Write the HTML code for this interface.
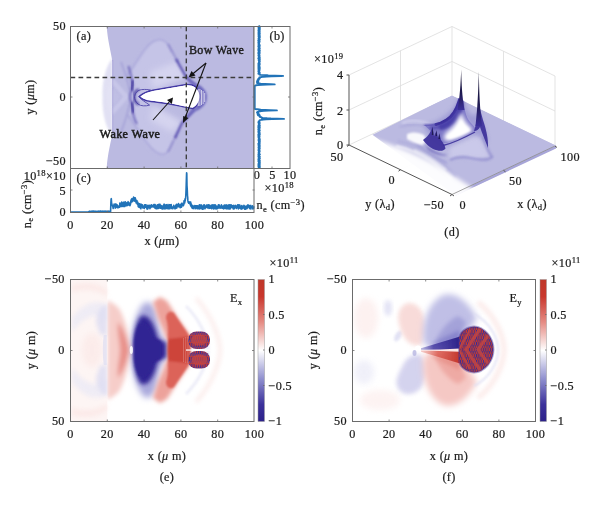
<!DOCTYPE html>
<html><head><meta charset="utf-8">
<style>
html,body{margin:0;padding:0;background:#fff;}
svg{display:block;opacity:0.99;}
text{font-family:"Liberation Serif",serif;font-size:12.2px;fill:#1a1a1a;stroke:#1a1a1a;stroke-width:0.22px;letter-spacing:0.35px;}
.ax{fill:none;stroke:#6a6a6a;stroke-width:1;}
.tk{stroke:#6a6a6a;stroke-width:0.8;fill:none;}
.it{font-style:italic;}
.sm{font-size:8.6px;}
</style></head><body>
<svg width="600" height="505" viewBox="0 0 600 505">
<defs>
<filter id="b1" x="-20%" y="-20%" width="140%" height="140%"><feGaussianBlur stdDeviation="1"/></filter>
<filter id="b2" x="-20%" y="-20%" width="140%" height="140%"><feGaussianBlur stdDeviation="2"/></filter>
<filter id="b3" x="-30%" y="-30%" width="160%" height="160%"><feGaussianBlur stdDeviation="3"/></filter>
<filter id="b5" x="-30%" y="-30%" width="160%" height="160%"><feGaussianBlur stdDeviation="5"/></filter>
<filter id="b05" x="-20%" y="-20%" width="140%" height="140%"><feGaussianBlur stdDeviation="0.5"/></filter>
<clipPath id="clipA"><rect x="70.5" y="26.5" width="183.5" height="142"/></clipPath>
<clipPath id="clipE"><rect x="70.5" y="279.5" width="183.5" height="142"/></clipPath>
<clipPath id="clipF"><rect x="352.5" y="279.5" width="183" height="142"/></clipPath>
<linearGradient id="cbar" x1="0" y1="0" x2="0" y2="1">
<stop offset="0" stop-color="#bf3527"/>
<stop offset="0.12" stop-color="#c9352b"/>
<stop offset="0.3" stop-color="#e58a82"/>
<stop offset="0.5" stop-color="#ffffff"/>
<stop offset="0.7" stop-color="#8f8fcf"/>
<stop offset="0.88" stop-color="#3a2f9a"/>
<stop offset="1" stop-color="#2a1f88"/>
</linearGradient>
</defs>
<rect width="600" height="505" fill="#fff"/>

<g id="panelA">
<g clip-path="url(#clipA)">
<rect x="70" y="26" width="185" height="142" fill="#fff"/>
<!-- haze left of edge -->
<path d="M112.500,58 C106,66 102,80 102.500,97 C102,114 106,128 112.500,136 Z" fill="#c9c8ea" opacity="0.55" filter="url(#b1)"/>
<path d="M112.500,78 C108,84 106,90 107,97 C106,104 108,110 112.500,116 Z" fill="#e4e3f5" opacity="0.7" filter="url(#b1)"/>
<!-- plasma body -->
<path d="M106.700,26 C107.500,40 111,52 112.500,62 L112.500,132 C111,142 107.500,154 106.700,168 L255,168 L255,26 Z" fill="#bbbae1"/>
<path d="M112.700,60 L112.700,134" stroke="#8f8bcf" stroke-width="0.800" opacity="0.7" fill="none"/>
<!-- light chevron > -->
<path d="M113,78 L129.500,96.800 L113,115 L113,108 L123,96.800 L113,85 Z" fill="#cdccec" opacity="0.7" filter="url(#b1)"/>
<path d="M113,88 L121,96.800 L113,106 Z" fill="#c2c1e6" opacity="0.6" filter="url(#b1)"/>
<!-- lighter interior of wake domes -->
<path d="M129,75 C134,66 140,56 146,48 C151,41 157,38 163,40 C168,42 170,47 172,52 L186.500,77.500 L152,90 L137,92 Z" fill="#cfceed" opacity="0.5" filter="url(#b2)"/>
<path d="M150,72 L176,62 L186.500,77.500 L153,89 Z" fill="#e0dff4" opacity="0.6" filter="url(#b3)"/>
<path d="M130,114 C135,124 141,134 147,143 C153,151 160,156 165,154 C170,152 171,146 173,141 L182,123 L150,104 L137,102 Z" fill="#cfceed" opacity="0.5" filter="url(#b2)"/>
<path d="M150,120 L172,132 L182,122 L153,105 Z" fill="#e0dff4" opacity="0.6" filter="url(#b3)"/>
<!-- dome rims -->
<path d="M127,76 C133,67 139,57 145,49 C150,42 157,38 163,40 C168,42 170,47 172,52" fill="none" stroke="#8580c9" stroke-width="1.800" opacity="0.32" filter="url(#b1)"/>
<path d="M128,115 C134,124 140,134 147,143 C153,151 160,156 165,154 C170,152 171,146 173,141" fill="none" stroke="#8580c9" stroke-width="1.800" opacity="0.32" filter="url(#b1)"/>
<!-- bow lines -->
<path d="M168,44 L178,62" fill="none" stroke="#5a50b3" stroke-width="1.600" opacity="0.45" filter="url(#b1)"/>
<path d="M176,59 L186.500,77.500 L197,86.500" fill="none" stroke="#4337a6" stroke-width="2.200" opacity="0.85" filter="url(#b1)"/>
<path d="M168,152 L176,136" fill="none" stroke="#5a50b3" stroke-width="1.600" opacity="0.45" filter="url(#b1)"/>
<path d="M175,138 L182,123 L195,108.500" fill="none" stroke="#4337a6" stroke-width="2.200" opacity="0.85" filter="url(#b1)"/>
<!-- halo to the right of cavity -->
<path d="M186.500,77.500 L197,84 C205,88 208,94 207,98 C207,103 203,108 196,111 L182,123 L190,112 L190,84 Z" fill="#746ec3" opacity="0.7" filter="url(#b1)"/>
<path d="M196,84 C203,87 206,92 206,97 C206,103 202,108 195,111 L199,104 L200,92 Z" fill="#5c54b6" opacity="0.7" filter="url(#b1)"/>
<!-- left ( structure -->
<path d="M128.500,66 C131,74 132,80 132.500,85 C131.500,90 130.200,93 129.800,96.800 C130.200,101 131.500,104 132.800,108 C132.500,114 134,119 137,124" fill="none" stroke="#4a3fab" stroke-width="2.200" opacity="0.6" filter="url(#b1)"/>
<path d="M133,80 C132,86 131.800,89 131.500,91 M131.500,102 C132,105 132.500,108 133.500,113" fill="none" stroke="#3a2f9a" stroke-width="3" opacity="0.8" filter="url(#b1)"/>
<path d="M121,62 C125,72 128,82 129.500,90" fill="none" stroke="#6a63bd" stroke-width="1.300" opacity="0.35" filter="url(#b1)"/>
<path d="M121,132 C125,122 128,112 129.500,104" fill="none" stroke="#6a63bd" stroke-width="1.300" opacity="0.35" filter="url(#b1)"/>
<!-- small loop arms -->
<path d="M134,96 C134.500,92 137,89.500 141,89 C145,88.600 148,89 150,89.500 C146,91.500 141,93 138,96 C141,99.500 145,101.500 149,104.500 C145,105.800 140,105.500 137.500,103.500 C135,101.500 134,99 134,96 Z" fill="#c3c2e6" stroke="#4036a3" stroke-width="1" opacity="0.8" filter="url(#b05)" transform="translate(0.6,0.6)"/>
<path d="M139,89.500 C135.500,90.500 134,93 134.200,96.500 C134,100 135.500,103 139,104.500" fill="none" stroke="#3a2f9a" stroke-width="2.600" opacity="0.75" filter="url(#b1)"/>
<!-- cavity dark outline -->
<path d="M139.400,96.600 C143,93 148,91.300 153,90.200 L186.500,84.500 C190,84.300 193,85 195.500,86.700 C199,90 200.500,94 200,98 C199.500,102 197,106 193,108.500 C186,107.500 178,105.500 170,104 C162,102.600 154,102 147,100.800 C143.500,100 141,98.500 139.400,96.600 Z" fill="#ffffff" stroke="#4036a3" stroke-width="1.500" filter="url(#b05)"/>
<path d="M140.400,96.600 C143.500,93.700 148,92.100 153,91 L186.500,85.300 C190,85.100 193,86 195,87.500 C198,90.500 199.500,94 199,98 C198.500,102 196.500,105.500 193,107.600 C186,106.700 178,104.700 170,103.200 C162,101.800 154,101.200 147.500,100 C144,99.200 142,98 140.400,96.600 Z" fill="#ffffff"/>
<!-- stripes right of cavity -->
<g stroke="#fff" stroke-width="0.75" opacity="0.9" filter="url(#b05)">
<line x1="198.300" y1="89" x2="198.300" y2="106"/><line x1="199.900" y1="89" x2="199.900" y2="106"/><line x1="201.500" y1="90" x2="201.500" y2="105"/><line x1="203.100" y1="91" x2="203.100" y2="104"/><line x1="204.700" y1="93" x2="204.700" y2="102"/>
</g>
</g>
<!-- dashed lines -->
<line x1="70.5" y1="77.5" x2="254.5" y2="77.5" stroke="#3a3a3a" stroke-width="1.35" stroke-dasharray="4.7,3.3"/>
<line x1="186.3" y1="26.5" x2="186.3" y2="168.5" stroke="#3a3a3a" stroke-width="1.35" stroke-dasharray="4.7,3.3"/>
<!-- frame -->
<rect class="ax" x="70.5" y="26.5" width="183.5" height="142"/>
<g class="tk">
<path d="M107.3,26.5v2M144.1,26.5v2M180.9,26.5v2M217.7,26.5v2M107.3,168.5v-2M144.1,168.5v-2M180.9,168.5v-2M217.7,168.5v-2M70.5,97h2M254.5,97h-2"/>
</g>
<!-- arrows -->
<g stroke="#111" stroke-width="1.1" fill="#111">
<line x1="206" y1="63" x2="192" y2="74.5"/><path d="M188.500,77.500 L195.500,75.500 L191.500,71 Z" stroke="none"/>
<line x1="206" y1="63" x2="185" y2="118"/><path d="M183,123 L188.500,118 L183.200,116 Z" stroke="none"/>
<line x1="153" y1="120" x2="170" y2="101"/><path d="M173,97.500 L171.800,104 L167,100 Z" stroke="none"/>
</g>
<text x="189" y="53.5" style="font-size:12px;stroke-width:0.4px">Bow Wave</text>
<text x="99.500" y="138" style="font-size:12.2px;stroke-width:0.5px">Wake Wave</text>
<text x="76.5" y="40">(a)</text>
<text x="66" y="30" text-anchor="end">50</text>
<text x="66" y="101" text-anchor="end">0</text>
<text x="66" y="165" text-anchor="end">−50</text>
<text transform="translate(33.5,97) rotate(-90)" text-anchor="middle">y (<tspan class="it">μ</tspan>m)</text>
</g>

<g id="panelB">
<rect x="254" y="26.5" width="36" height="142" fill="#fff"/>
<polyline points="258.5,26.0 259.4,26.2 259.5,26.4 259.1,26.6 258.4,26.8 259.1,27.0 258.9,27.2 259.8,27.4 258.5,27.6 259.6,27.8 259.8,28.0 259.4,28.2 259.6,28.4 258.6,28.6 259.8,28.8 259.1,29.0 259.8,29.2 259.7,29.4 258.6,29.7 259.5,29.9 259.7,30.1 258.4,30.3 258.9,30.5 259.5,30.7 258.6,30.9 259.7,31.1 258.7,31.3 259.6,31.5 258.5,31.7 259.1,31.9 259.7,32.1 258.6,32.3 258.7,32.5 259.1,32.7 258.8,32.9 258.4,33.1 258.6,33.3 258.6,33.5 259.8,33.7 259.4,33.9 259.7,34.1 258.6,34.3 259.5,34.5 258.5,34.7 259.1,34.9 259.3,35.1 258.9,35.3 259.7,35.5 259.2,35.7 259.2,35.9 259.7,36.1 258.5,36.3 259.8,36.5 259.3,36.8 258.9,37.0 259.5,37.2 258.7,37.4 259.8,37.6 259.2,37.8 258.9,38.0 259.5,38.2 259.0,38.4 258.6,38.6 259.5,38.8 258.4,39.0 259.6,39.2 258.7,39.4 259.3,39.6 259.8,39.8 259.2,40.0 259.3,40.2 258.8,40.4 258.3,40.6 258.4,40.8 258.6,41.0 259.3,41.2 259.0,41.4 259.1,41.6 259.7,41.8 258.5,42.0 258.7,42.2 259.3,42.4 258.4,42.6 258.3,42.8 258.9,43.0 258.5,43.2 258.9,43.4 258.7,43.6 259.2,43.9 259.2,44.1 258.6,44.3 259.3,44.5 259.1,44.7 258.5,44.9 259.8,45.1 258.7,45.3 258.6,45.5 258.5,45.7 259.3,45.9 259.7,46.1 259.5,46.3 258.9,46.5 258.7,46.7 258.3,46.9 259.3,47.1 259.2,47.3 258.9,47.5 259.3,47.7 259.0,47.9 259.8,48.1 259.4,48.3 258.7,48.5 259.7,48.7 258.4,48.9 259.1,49.1 258.9,49.3 258.7,49.5 258.4,49.7 259.5,49.9 258.3,50.1 259.2,50.3 259.8,50.5 258.5,50.7 258.6,51.0 259.3,51.2 259.1,51.4 259.3,51.6 259.6,51.8 258.6,52.0 258.8,52.2 258.8,52.4 258.4,52.6 259.7,52.8 259.5,53.0 259.4,53.2 258.3,53.4 259.6,53.6 259.5,53.8 259.0,54.0 259.5,54.2 259.0,54.4 258.7,54.6 258.5,54.8 258.7,55.0 258.4,55.2 258.8,55.4 259.5,55.6 259.4,55.8 259.6,56.0 259.4,56.2 258.7,56.4 259.2,56.6 259.0,56.8 259.5,57.0 259.1,57.2 258.7,57.4 259.3,57.6 259.8,57.8 258.7,58.1 259.7,58.3 258.3,58.5 258.7,58.7 258.7,58.9 259.5,59.1 259.8,59.3 259.5,59.5 258.8,59.7 259.7,59.9 258.8,60.1 258.7,60.3 259.7,60.5 259.3,60.7 259.4,60.9 259.3,61.1 259.8,61.3 259.0,61.5 259.6,61.7 259.4,61.9 259.6,62.1 259.0,62.3 259.4,62.5 259.2,62.7 258.8,62.9 258.6,63.1 259.3,63.3 258.4,63.5 259.7,63.7 258.5,63.9 258.4,64.1 258.5,64.3 259.7,64.5 258.9,64.7 258.5,64.9 258.4,65.2 258.4,65.4 259.4,65.6 259.3,65.8 259.4,66.0 259.5,66.2 258.4,66.4 259.2,66.6 258.9,66.8 259.6,67.0 259.6,67.2 259.7,67.4 258.4,67.6 259.7,67.8 259.7,68.0 259.8,68.2 258.5,68.4 258.6,68.6 258.5,68.8 258.4,69.0 259.6,69.2 259.6,69.4 259.3,69.6 259.6,69.8 259.3,70.0 258.8,70.2 258.5,70.4 258.5,70.6 259.5,70.8 258.6,71.0 258.8,71.2 259.0,71.4 258.4,71.6 258.7,71.8 258.8,72.0 259.4,72.3 258.9,72.5 258.8,72.7 259.8,72.9 259.1,73.1 259.6,73.3 259.3,73.5 258.4,73.7 259.0,73.9 259.1,74.1 259.7,74.3 259.3,74.5 260.1,74.7 260.4,74.9 265.6,75.1 266.9,75.3 268.3,75.5 274.9,75.7 283.1,75.9 281.2,76.1 271.7,76.3 266.8,76.5 263.7,76.7 261.9,76.9 261.6,77.1 259.9,77.3 259.4,77.5 260.1,77.7 259.7,77.9 259.1,78.1 259.8,78.3 259.6,78.5 258.4,78.7 259.4,78.9 258.4,79.1 258.1,79.4 258.5,79.6 258.7,79.8 258.0,80.0 257.6,80.2 258.3,80.4 257.4,80.6 258.4,80.8 257.2,81.0 258.4,81.2 257.2,81.4 258.0,81.6 257.0,81.8 257.2,82.0 257.6,82.2 257.3,82.4 258.4,82.6 257.0,82.8 257.1,83.0 258.9,83.2 259.1,83.4 259.2,83.6 260.9,83.8 264.7,84.0 270.7,84.2 274.7,84.4 267.0,84.6 262.0,84.8 257.8,85.0 256.4,85.2 255.7,85.4 255.2,85.6 255.0,85.8 254.8,86.0 254.8,86.2 254.7,86.5 254.7,86.7 254.7,86.9 254.7,87.1 254.7,87.3 254.7,87.5 254.7,87.7 254.7,87.9 254.7,88.1 254.7,88.3 254.7,88.5 254.7,88.7 254.7,88.9 254.7,89.1 254.7,89.3 254.7,89.5 254.7,89.7 254.7,89.9 254.7,90.1 254.7,90.3 254.7,90.5 254.7,90.7 254.7,90.9 254.7,91.1 254.7,91.3 254.7,91.5 254.7,91.7 254.7,91.9 254.7,92.1 254.7,92.3 254.7,92.5 254.7,92.7 254.7,92.9 254.7,93.1 254.7,93.3 254.7,93.6 254.7,93.8 254.7,94.0 254.7,94.2 254.7,94.4 254.7,94.6 254.7,94.8 254.7,95.0 254.7,95.2 254.7,95.4 254.7,95.6 254.7,95.8 254.7,96.0 254.7,96.2 254.7,96.4 254.7,96.6 254.7,96.8 254.7,97.0 254.7,97.2 254.7,97.4 254.7,97.6 254.7,97.8 254.7,98.0 254.7,98.2 254.7,98.4 254.7,98.6 254.7,98.8 254.7,99.0 254.7,99.2 254.7,99.4 254.7,99.6 254.7,99.8 254.7,100.0 254.7,100.2 254.7,100.4 254.7,100.7 254.7,100.9 254.7,101.1 254.7,101.3 254.7,101.5 254.7,101.7 254.7,101.9 254.7,102.1 254.7,102.3 254.7,102.5 254.7,102.7 254.7,102.9 254.7,103.1 254.7,103.3 254.7,103.5 254.7,103.7 254.7,103.9 254.7,104.1 254.7,104.3 254.7,104.5 254.7,104.7 254.7,104.9 254.7,105.1 254.7,105.3 254.7,105.5 254.7,105.7 254.7,105.9 254.7,106.1 254.7,106.3 254.7,106.5 254.7,106.7 254.7,106.9 254.7,107.1 254.7,107.3 254.7,107.5 254.7,107.8 254.7,108.0 254.7,108.2 254.7,108.4 254.8,108.6 254.9,108.8 255.1,109.0 257.0,109.2 259.3,109.4 259.2,109.6 260.9,109.8 265.3,110.0 270.2,110.2 276.9,110.4 268.7,110.6 263.9,110.8 261.5,111.0 259.9,111.2 258.9,111.4 258.5,111.6 258.5,111.8 257.4,112.0 257.1,112.2 257.0,112.4 257.2,112.6 257.8,112.8 258.5,113.0 258.5,113.2 258.1,113.4 258.6,113.6 258.0,113.8 257.5,114.0 258.5,114.2 258.6,114.4 259.2,114.6 259.4,114.9 258.7,115.1 258.0,115.3 259.2,115.5 259.7,115.7 259.2,115.9 259.9,116.1 259.5,116.3 259.8,116.5 259.6,116.7 260.0,116.9 260.0,117.1 261.6,117.3 261.7,117.5 261.5,117.7 262.9,117.9 264.7,118.1 267.1,118.3 270.9,118.5 277.5,118.7 284.0,118.9 272.1,119.1 266.2,119.3 263.3,119.5 261.8,119.7 261.0,119.9 260.0,120.1 259.7,120.3 259.5,120.5 259.5,120.7 259.3,120.9 259.4,121.1 258.7,121.3 259.4,121.5 259.0,121.7 259.5,122.0 258.5,122.2 258.6,122.4 258.4,122.6 259.5,122.8 259.7,123.0 259.3,123.2 258.9,123.4 259.6,123.6 259.5,123.8 259.2,124.0 258.7,124.2 258.8,124.4 259.0,124.6 258.8,124.8 259.0,125.0 259.3,125.2 259.8,125.4 258.4,125.6 259.2,125.8 258.4,126.0 258.5,126.2 259.6,126.4 259.2,126.6 259.7,126.8 259.0,127.0 258.3,127.2 258.9,127.4 259.2,127.6 259.8,127.8 259.8,128.0 259.1,128.2 259.0,128.4 258.5,128.6 259.3,128.8 258.6,129.1 258.6,129.3 258.3,129.5 258.3,129.7 259.4,129.9 258.5,130.1 259.8,130.3 258.5,130.5 259.7,130.7 258.5,130.9 258.4,131.1 259.4,131.3 258.7,131.5 259.4,131.7 258.6,131.9 258.4,132.1 259.5,132.3 259.4,132.5 259.6,132.7 259.4,132.9 258.5,133.1 259.3,133.3 259.4,133.5 259.0,133.7 259.8,133.9 258.7,134.1 259.8,134.3 259.4,134.5 258.3,134.7 258.3,134.9 259.3,135.1 259.6,135.3 258.4,135.5 258.8,135.7 259.4,135.9 258.6,136.2 259.6,136.4 259.1,136.6 258.4,136.8 258.9,137.0 259.2,137.2 259.0,137.4 259.4,137.6 258.5,137.8 259.5,138.0 258.9,138.2 259.3,138.4 259.3,138.6 259.0,138.8 258.9,139.0 259.5,139.2 259.8,139.4 259.5,139.6 259.2,139.8 258.8,140.0 258.4,140.2 259.8,140.4 259.4,140.6 259.6,140.8 258.8,141.0 259.3,141.2 259.8,141.4 259.6,141.6 259.2,141.8 258.8,142.0 259.0,142.2 259.7,142.4 258.9,142.6 259.4,142.8 259.2,143.0 259.7,143.3 259.6,143.5 258.8,143.7 258.3,143.9 258.7,144.1 259.0,144.3 259.2,144.5 259.6,144.7 259.7,144.9 258.4,145.1 259.6,145.3 259.6,145.5 259.7,145.7 259.2,145.9 258.7,146.1 259.6,146.3 259.6,146.5 259.4,146.7 259.7,146.9 258.9,147.1 258.5,147.3 259.2,147.5 259.5,147.7 258.6,147.9 259.5,148.1 259.8,148.3 258.7,148.5 259.3,148.7 259.4,148.9 259.0,149.1 258.6,149.3 258.7,149.5 259.5,149.7 259.5,149.9 259.0,150.1 258.5,150.4 259.6,150.6 259.5,150.8 258.7,151.0 259.2,151.2 259.7,151.4 259.7,151.6 259.1,151.8 259.1,152.0 259.2,152.2 258.6,152.4 258.6,152.6 258.6,152.8 259.4,153.0 258.9,153.2 259.2,153.4 258.9,153.6 259.1,153.8 258.6,154.0 258.4,154.2 259.9,154.4 258.9,154.6 258.5,154.8 259.3,155.0 259.5,155.2 258.6,155.4 259.2,155.6 258.9,155.8 259.1,156.0 258.4,156.2 258.4,156.4 259.8,156.6 259.7,156.8 259.1,157.0 259.2,157.2 258.7,157.5 259.5,157.7 259.0,157.9 259.8,158.1 259.5,158.3 259.6,158.5 259.8,158.7 258.7,158.9 258.4,159.1 258.6,159.3 258.6,159.5 258.5,159.7 258.4,159.9 259.2,160.1 259.7,160.3 259.0,160.5 259.8,160.7 259.7,160.9 258.4,161.1 259.2,161.3 258.9,161.5 258.5,161.7 259.8,161.9 258.7,162.1 259.2,162.3 259.3,162.5 259.8,162.7 259.3,162.9 258.9,163.1 259.0,163.3 258.6,163.5 259.8,163.7 259.8,163.9 258.7,164.1 258.4,164.3 258.7,164.6 258.9,164.8 259.7,165.0 259.7,165.2 259.6,165.4 258.4,165.6 259.5,165.8 259.4,166.0 259.3,166.2 259.8,166.4 258.4,166.6 258.5,166.8 259.5,167.0 259.8,167.2 259.4,167.4 258.8,167.6 259.2,167.8 259.5,168.0" fill="none" stroke="#1f72b8" stroke-width="1.9" stroke-linejoin="round"/>
<rect class="ax" x="254" y="26.5" width="36" height="142"/>
<path class="tk" d="M272,26.5v2M272,168.5v-2M290,97h-2"/>
<text x="269.5" y="40">(b)</text>
<text x="257" y="179" text-anchor="middle">0</text>
<text x="272.5" y="179" text-anchor="middle">5</text>
<text x="290" y="179" text-anchor="middle">10</text>
<text x="264.5" y="192">×10<tspan class="sm" dy="-4">18</tspan></text>
<text x="256.5" y="209">n<tspan class="sm" dy="2.5">e</tspan><tspan dy="-2.5"> (cm</tspan><tspan class="sm" dy="-4">−3</tspan><tspan dy="4">)</tspan></text>
</g>

<g id="panelC">
<polyline points="70.5,212.1 70.7,212.1 71.0,212.1 71.2,212.1 71.4,212.1 71.6,212.1 71.9,212.1 72.1,212.1 72.3,212.1 72.6,212.1 72.8,212.1 73.0,212.1 73.3,212.1 73.5,212.1 73.7,212.1 73.9,212.1 74.2,212.1 74.4,212.1 74.6,212.1 74.9,212.1 75.1,212.1 75.3,212.1 75.5,212.1 75.8,212.1 76.0,212.1 76.2,212.1 76.5,212.1 76.7,212.1 76.9,212.1 77.2,212.1 77.4,212.1 77.6,212.1 77.8,212.1 78.1,212.1 78.3,212.1 78.5,212.1 78.8,212.1 79.0,212.1 79.2,212.1 79.4,212.1 79.7,212.1 79.9,212.1 80.1,212.1 80.4,212.1 80.6,212.1 80.8,212.1 81.1,212.1 81.3,212.1 81.5,212.1 81.7,212.1 82.0,212.1 82.2,212.1 82.4,212.1 82.7,212.1 82.9,212.1 83.1,212.1 83.3,212.1 83.6,212.1 83.8,212.1 84.0,212.1 84.3,212.1 84.5,212.1 84.7,212.1 85.0,212.1 85.2,212.1 85.4,212.1 85.6,212.1 85.9,212.1 86.1,212.1 86.3,212.1 86.6,212.1 86.8,212.1 87.0,212.1 87.2,212.1 87.5,212.1 87.7,212.1 87.9,212.1 88.2,212.1 88.4,212.1 88.6,212.1 88.8,211.5 89.1,211.7 89.3,211.3 89.5,211.7 89.8,211.4 90.0,211.5 90.2,211.7 90.5,211.4 90.7,211.7 90.9,211.5 91.1,211.7 91.4,211.7 91.6,211.5 91.8,211.2 92.1,211.7 92.3,211.6 92.5,211.3 92.7,211.1 93.0,211.4 93.2,211.5 93.4,211.1 93.7,211.7 93.9,211.2 94.1,211.6 94.4,211.7 94.6,211.7 94.8,211.6 95.0,211.2 95.3,211.6 95.5,211.4 95.7,211.3 96.0,211.5 96.2,211.4 96.4,211.7 96.6,211.7 96.9,211.6 97.1,211.3 97.3,211.5 97.6,211.6 97.8,211.4 98.0,211.5 98.3,211.6 98.5,211.2 98.7,211.3 98.9,211.6 99.2,211.4 99.4,211.4 99.6,211.2 99.9,211.3 100.1,211.6 100.3,211.1 100.5,211.7 100.8,211.5 101.0,211.3 101.2,211.7 101.5,211.4 101.7,211.7 101.9,211.3 102.2,211.3 102.4,211.4 102.6,211.2 102.8,211.6 103.1,211.3 103.3,211.4 103.5,211.4 103.8,211.5 104.0,211.2 104.2,211.1 104.4,211.4 104.7,211.3 104.9,211.7 105.1,211.3 105.4,211.3 105.6,211.1 105.8,211.2 106.1,211.6 106.3,211.5 106.5,211.3 106.7,211.7 107.0,211.5 107.2,211.6 107.4,211.7 107.7,211.7 107.9,211.3 108.1,211.7 108.3,211.6 108.6,211.5 108.8,211.2 109.0,211.7 109.3,211.5 109.5,211.4 109.7,211.2 110.0,211.2 110.2,211.2 110.4,211.6 110.6,211.5 110.9,202.2 111.1,199.0 111.3,198.6 111.6,203.0 111.8,203.8 112.0,204.6 112.2,205.6 112.5,205.2 112.7,205.2 112.9,207.1 113.2,208.5 113.4,206.6 113.6,206.8 113.9,205.9 114.1,204.0 114.3,205.2 114.5,206.0 114.8,205.5 115.0,205.1 115.2,208.1 115.5,204.0 115.7,204.5 115.9,204.0 116.1,204.3 116.4,206.2 116.6,206.2 116.8,207.5 117.1,204.9 117.3,207.6 117.5,207.6 117.8,206.8 118.0,207.0 118.2,206.1 118.4,207.4 118.7,207.6 118.9,206.8 119.1,207.0 119.4,205.7 119.6,207.3 119.8,203.1 120.0,204.3 120.3,206.5 120.5,205.9 120.7,205.4 121.0,205.3 121.2,206.4 121.4,202.9 121.7,202.1 121.9,204.6 122.1,204.5 122.3,206.4 122.6,206.3 122.8,205.0 123.0,205.4 123.3,202.6 123.5,205.8 123.7,206.5 123.9,202.0 124.2,204.0 124.4,205.8 124.6,203.9 124.9,206.4 125.1,203.9 125.3,201.7 125.5,202.3 125.8,203.1 126.0,205.2 126.2,204.7 126.5,205.7 126.7,202.7 126.9,203.9 127.2,202.7 127.4,204.9 127.6,205.4 127.8,202.5 128.1,201.7 128.3,202.3 128.5,202.5 128.8,202.4 129.0,202.7 129.2,205.1 129.4,203.6 129.7,204.2 129.9,205.6 130.1,205.4 130.4,204.0 130.6,203.9 130.8,201.5 131.1,199.9 131.3,202.1 131.5,199.4 131.7,198.8 132.0,198.6 132.2,201.2 132.4,201.6 132.7,201.2 132.9,201.1 133.1,200.8 133.3,198.6 133.6,197.1 133.8,197.4 134.0,199.1 134.3,198.3 134.5,197.7 134.7,201.3 135.0,198.8 135.2,197.8 135.4,198.8 135.6,199.3 135.9,201.0 136.1,202.9 136.3,200.3 136.6,203.0 136.8,201.1 137.0,200.7 137.2,203.9 137.5,204.3 137.7,202.0 137.9,203.4 138.2,206.4 138.4,206.8 138.6,207.0 138.9,203.5 139.1,204.2 139.3,207.5 139.5,204.4 139.8,203.8 140.0,205.4 140.2,207.0 140.5,206.1 140.7,208.2 140.9,208.8 141.1,204.2 141.4,205.8 141.6,206.4 141.8,204.5 142.1,206.9 142.3,204.8 142.5,205.0 142.8,208.0 143.0,207.8 143.2,207.6 143.4,207.9 143.7,206.2 143.9,207.8 144.1,207.0 144.4,208.4 144.6,204.7 144.8,207.4 145.0,206.9 145.3,206.3 145.5,204.7 145.7,207.1 146.0,204.7 146.2,206.7 146.4,206.5 146.7,206.6 146.9,209.0 147.1,207.0 147.3,208.2 147.6,209.1 147.8,205.2 148.0,208.3 148.3,206.8 148.5,205.6 148.7,206.4 148.9,207.5 149.2,206.6 149.4,206.4 149.6,205.3 149.9,208.6 150.1,206.4 150.3,207.9 150.6,207.8 150.8,205.4 151.0,206.7 151.2,206.4 151.5,205.4 151.7,204.7 151.9,207.0 152.2,206.2 152.4,206.7 152.6,206.6 152.8,205.8 153.1,206.9 153.3,206.5 153.5,206.8 153.8,204.6 154.0,205.7 154.2,204.9 154.5,204.6 154.7,207.9 154.9,206.4 155.1,204.6 155.4,205.1 155.6,208.5 155.8,208.5 156.1,207.0 156.3,208.8 156.5,208.0 156.7,208.8 157.0,205.9 157.2,205.3 157.4,204.8 157.7,208.4 157.9,205.7 158.1,205.9 158.4,208.4 158.6,204.8 158.8,204.4 159.0,208.1 159.3,204.5 159.5,207.2 159.7,206.8 160.0,204.3 160.2,205.1 160.4,208.3 160.6,207.0 160.9,206.6 161.1,207.5 161.3,208.2 161.6,207.6 161.8,205.6 162.0,209.0 162.2,206.4 162.5,207.0 162.7,209.0 162.9,207.5 163.2,206.1 163.4,206.6 163.6,208.8 163.9,204.3 164.1,205.3 164.3,204.4 164.5,208.6 164.8,207.8 165.0,208.9 165.2,205.3 165.5,207.8 165.7,208.5 165.9,207.1 166.1,204.7 166.4,205.1 166.6,207.8 166.8,208.4 167.1,204.6 167.3,206.3 167.5,205.7 167.8,208.6 168.0,208.8 168.2,205.7 168.4,207.0 168.7,208.7 168.9,204.5 169.1,206.0 169.4,205.2 169.6,208.7 169.8,204.9 170.0,208.7 170.3,204.9 170.5,206.8 170.7,207.4 171.0,206.4 171.2,204.5 171.4,207.7 171.7,208.4 171.9,206.5 172.1,207.8 172.3,208.5 172.6,208.2 172.8,208.7 173.0,208.0 173.3,207.4 173.5,207.5 173.7,205.2 173.9,207.5 174.2,206.5 174.4,208.0 174.6,207.2 174.9,208.8 175.1,207.6 175.3,208.7 175.6,205.3 175.8,206.1 176.0,207.8 176.2,206.4 176.5,204.2 176.7,208.2 176.9,204.7 177.2,206.5 177.4,206.2 177.6,204.5 177.8,206.6 178.1,206.0 178.3,205.1 178.5,203.6 178.8,206.7 179.0,204.3 179.2,204.8 179.5,205.1 179.7,206.2 179.9,206.4 180.1,207.7 180.4,207.3 180.6,207.5 180.8,204.2 181.1,206.4 181.3,206.8 181.5,207.1 181.7,203.3 182.0,203.1 182.2,203.9 182.4,205.6 182.7,205.7 182.9,205.3 183.1,204.3 183.4,205.6 183.6,204.0 183.8,204.6 184.0,200.9 184.3,200.5 184.5,202.1 184.7,203.0 185.0,198.7 185.2,200.8 185.4,199.1 185.6,198.6 185.9,193.6 186.1,188.5 186.3,181.5 186.6,172.7 186.8,173.6 187.0,185.5 187.3,190.6 187.5,195.8 187.7,197.2 187.9,200.9 188.2,202.4 188.4,202.1 188.6,203.2 188.9,202.0 189.1,202.7 189.3,202.0 189.5,202.8 189.8,202.7 190.0,202.1 190.2,204.7 190.5,205.2 190.7,202.1 190.9,206.3 191.2,203.7 191.4,204.2 191.6,207.2 191.8,205.2 192.1,205.9 192.3,208.5 192.5,206.9 192.8,205.6 193.0,206.6 193.2,206.1 193.4,208.1 193.7,208.5 193.9,208.7 194.1,206.7 194.4,206.4 194.6,207.0 194.8,205.6 195.1,206.9 195.3,206.2 195.5,205.9 195.7,208.8 196.0,205.9 196.2,205.9 196.4,206.9 196.7,207.0 196.9,205.7 197.1,206.3 197.3,208.5 197.6,205.8 197.8,206.6 198.0,208.9 198.3,206.2 198.5,206.1 198.7,206.8 198.9,207.1 199.2,205.2 199.4,204.8 199.6,209.0 199.9,205.5 200.1,207.1 200.3,208.2 200.6,208.2 200.8,208.5 201.0,204.9 201.2,205.5 201.5,205.2 201.7,208.1 201.9,207.0 202.2,209.1 202.4,207.1 202.6,208.5 202.8,207.7 203.1,209.1 203.3,205.4 203.5,205.0 203.8,205.2 204.0,207.5 204.2,204.7 204.5,207.5 204.7,207.9 204.9,208.7 205.1,207.9 205.4,208.0 205.6,206.9 205.8,207.5 206.1,205.2 206.3,206.3 206.5,205.0 206.7,206.0 207.0,205.9 207.2,205.8 207.4,207.9 207.7,205.0 207.9,207.0 208.1,207.8 208.4,204.8 208.6,206.2 208.8,206.7 209.0,208.4 209.3,208.2 209.5,206.9 209.7,205.1 210.0,207.1 210.2,208.3 210.4,207.6 210.6,208.1 210.9,206.6 211.1,205.8 211.3,207.3 211.6,207.5 211.8,208.8 212.0,204.9 212.3,206.9 212.5,205.3 212.7,207.9 212.9,207.4 213.2,204.9 213.4,205.3 213.6,209.0 213.9,205.2 214.1,206.5 214.3,207.4 214.5,205.5 214.8,204.8 215.0,208.6 215.2,206.8 215.5,205.0 215.7,206.3 215.9,207.1 216.2,208.9 216.4,208.1 216.6,206.3 216.8,208.6 217.1,206.3 217.3,208.6 217.5,206.8 217.8,207.4 218.0,206.5 218.2,207.8 218.4,204.9 218.7,205.2 218.9,208.1 219.1,204.9 219.4,207.8 219.6,206.9 219.8,207.3 220.1,206.2 220.3,208.1 220.5,207.6 220.7,206.1 221.0,205.6 221.2,206.9 221.4,204.9 221.7,205.5 221.9,208.1 222.1,207.8 222.3,206.9 222.6,208.1 222.8,206.2 223.0,208.5 223.3,208.2 223.5,208.5 223.7,208.9 224.0,205.2 224.2,205.9 224.4,205.0 224.6,208.3 224.9,205.8 225.1,206.2 225.3,207.5 225.6,208.4 225.8,207.9 226.0,204.9 226.2,204.9 226.5,207.6 226.7,205.5 226.9,208.9 227.2,207.5 227.4,208.3 227.6,205.2 227.9,207.3 228.1,205.7 228.3,209.0 228.5,205.1 228.8,205.8 229.0,207.6 229.2,204.9 229.5,208.0 229.7,207.7 229.9,209.1 230.1,205.1 230.4,205.0 230.6,208.1 230.8,204.9 231.1,207.4 231.3,207.2 231.5,205.0 231.8,205.6 232.0,205.5 232.2,206.4 232.4,207.7 232.7,205.7 232.9,208.3 233.1,208.0 233.4,209.0 233.6,207.7 233.8,205.2 234.0,208.0 234.3,208.7 234.5,206.0 234.7,208.1 235.0,206.4 235.2,205.8 235.4,206.2 235.7,205.4 235.9,206.6 236.1,205.9 236.3,208.0 236.6,208.4 236.8,206.6 237.0,207.4 237.3,206.9 237.5,205.6 237.7,204.8 237.9,207.0 238.2,205.4 238.4,208.9 238.6,208.6 238.9,204.8 239.1,205.0 239.3,205.3 239.5,208.0 239.8,205.0 240.0,206.5 240.2,208.2 240.5,208.5 240.7,208.0 240.9,206.3 241.2,209.1 241.4,206.1 241.6,207.7 241.8,205.6 242.1,208.8 242.3,207.4 242.5,206.3 242.8,208.4 243.0,207.3 243.2,207.8 243.4,207.7 243.7,207.5 243.9,205.3 244.1,207.5 244.4,205.9 244.6,209.1 244.8,207.3 245.1,207.3 245.3,207.1 245.5,209.1 245.7,206.3 246.0,208.7 246.2,207.5 246.4,208.5 246.7,206.8 246.9,208.6 247.1,205.6 247.3,208.3 247.6,205.0 247.8,207.0 248.0,205.0 248.3,205.1 248.5,205.5 248.7,205.7 249.0,207.3 249.2,205.5 249.4,208.2 249.6,206.8 249.9,208.6 250.1,205.9 250.3,208.9 250.6,205.8 250.8,205.4 251.0,206.5 251.2,206.4 251.5,207.3 251.7,207.2 251.9,207.2 252.2,209.0 252.4,207.0 252.6,205.8 252.9,207.1 253.1,207.0 253.3,208.6 253.5,208.7 253.8,206.9 254.0,206.3" fill="none" stroke="#1f72b8" stroke-width="1.6" stroke-linejoin="round"/>
<rect class="ax" x="70.5" y="168.5" width="183.5" height="44"/>
<path class="tk" d="M107.3,212.5v-2M144.1,212.5v-2M180.9,212.5v-2M217.7,212.5v-2M70.5,190h2M254.5,190h-2"/>
<text x="76.5" y="182">(c)</text>
<text x="66" y="180" text-anchor="end">10<tspan class="sm" dy="-4">18</tspan><tspan dy="4">×10</tspan></text>
<text x="66" y="194.5" text-anchor="end">5</text>
<text x="66" y="216" text-anchor="end">0</text>
<text x="70.5" y="229" text-anchor="middle">0</text>
<text x="107.3" y="229" text-anchor="middle">20</text>
<text x="144.1" y="229" text-anchor="middle">40</text>
<text x="180.9" y="229" text-anchor="middle">60</text>
<text x="217.7" y="229" text-anchor="middle">80</text>
<text x="254.5" y="229" text-anchor="middle">100</text>
<text x="162" y="244.5" text-anchor="middle">x (<tspan class="it">μ</tspan>m)</text>
<text transform="translate(30.5,204) rotate(-90)" text-anchor="middle">n<tspan class="sm" dy="2.5">e</tspan><tspan dy="-2.5"> (cm</tspan><tspan class="sm" dy="-4">−3</tspan><tspan dy="4">)</tspan></text>
</g>

<g id="panelD">
<defs>
<clipPath id="clipD"><path d="M350,146 L452,95 L557,145.500 L557,149 L455,196.500 Z"/></clipPath>
<linearGradient id="edgeD" x1="380" y1="170" x2="392" y2="146" gradientUnits="userSpaceOnUse">
<stop offset="0" stop-color="#fff"/><stop offset="1" stop-color="#fff" stop-opacity="0"/>
</linearGradient>
<linearGradient id="spk" x1="0" y1="69" x2="0" y2="110" gradientUnits="userSpaceOnUse"><stop offset="0" stop-color="#15122e"/><stop offset="0.6" stop-color="#1d1850"/><stop offset="1" stop-color="#3a2f9a"/></linearGradient>
<linearGradient id="spk2" x1="0" y1="71" x2="0" y2="126" gradientUnits="userSpaceOnUse"><stop offset="0" stop-color="#15122e"/><stop offset="0.6" stop-color="#1d1850"/><stop offset="1" stop-color="#3a2f9a"/></linearGradient>
</defs>
<!-- grid walls -->
<g stroke="#dcdcdc" stroke-width="0.8" fill="none">
<path d="M349,75 L452,26.500 L555,76"/>
<path d="M349,110 L452,61.500 L555,111"/>
<path d="M349,145 L452,96.500 L555,146"/>
<path d="M400.500,120.500 V50.700"/>
<path d="M452,96.500 V26.500"/>
<path d="M503.500,121.300 V51.200"/>
<path d="M555,146 V76"/>
<path d="M400.500,169.700 L421,160"/>
</g>
<!-- surface -->
<g clip-path="url(#clipD)">
<path d="M370,133 L452,95.500 L556,145.500 L556,147.500 L455,195 Z" fill="#bbbae1"/>
<path d="M455,193.500 L556,146 L556,148.500 L455,196 Z" fill="#a6a4d8"/>
<!-- fade at front-left edge -->
<path d="M356,143 L368,137.500 C392,144 418,154 438,166 C450,173 462,181 474,189 L446,208 Z" fill="#ffffff" opacity="0.95" filter="url(#b2)"/>
<!-- ripples near edge -->
<path d="M396,146 C408,148 420,154 432,162 C440,168 446,174 452,180" fill="none" stroke="#ffffff" stroke-width="2.500" opacity="0.6" filter="url(#b1)"/>
<path d="M398,141 C412,143 424,150 436,158 C444,164 450,170 456,176" fill="none" stroke="#9d9ad4" stroke-width="1.500" opacity="0.45" filter="url(#b1)"/>
<path d="M410,139 C420,146 432,156 447,163" fill="none" stroke="#8a86cc" stroke-width="1.800" opacity="0.55" filter="url(#b1)"/>
<path d="M414,150 C424,154 436,162 446,170" fill="none" stroke="#ffffff" stroke-width="2.500" opacity="0.5" filter="url(#b1)"/>
<!-- top dome outline -->
<path d="M402,123 C412,119 424,121 432,125" fill="none" stroke="#d7d6f0" stroke-width="2.500" opacity="0.7" filter="url(#b1)"/>
<path d="M400,127 C412,123 424,125 430,128" fill="none" stroke="#918dcf" stroke-width="1.300" opacity="0.45" filter="url(#b1)"/>
<!-- light interior of bottom dome -->
<path d="M450,147 C460,143 470,138 478,134 L490,156 C482,162 470,158 460,157 C455,158 452,160 449,160 Z" fill="#cfceec" opacity="0.75" filter="url(#b2)"/>
<!-- bottom dome ridge -->
<path d="M483,137 C486,146 489,153 492,157 C488,161 480,160 470,158 C462,156 456,157 450,160" fill="none" stroke="#7f7ac8" stroke-width="2.200" opacity="0.65" filter="url(#b1)"/>
<!-- whitish lobe W1 -->
<path d="M407,134 C412,131.500 419,132 424,135 C427,139 426,143 422,145 C416,144 411,142 407,139 Z" fill="#ffffff" opacity="0.9" filter="url(#b1)"/>
<!-- halo around bowl -->
<path d="M424,126 C436,122 448,116 456,104 L461,94 L464,100 C467,112 472,120 478,112 C482,122 486,130 488,142 C480,136 476,134 470,136 C460,140 452,144 446,147 C436,146 428,136 424,126 Z" fill="#8480ca" opacity="0.5" filter="url(#b2)"/>
<!-- bowl -->
<path d="M424,125 C432,124.500 440,123 446,119.500 C452,116 456,109 458.500,101 L461,94 L463.500,101 C464.500,110 466,117 470,122 C472.500,125 475,127 476.500,130 C470,134 462,138 454,141 C450,142.500 446,143.500 442,143 C438,139 434,133 424,125 Z" fill="#7c77c7" filter="url(#b05)"/>
<path d="M436,124.500 C440,123.800 443.500,122 446.500,120 C452.500,116.500 456.500,109.500 459,101.500 L461,95" fill="none" stroke="#372c98" stroke-width="3" filter="url(#b05)" stroke-linecap="round"/>
<path d="M424,125.500 C430,125.300 434,125 438,124" fill="none" stroke="#5147ae" stroke-width="2" opacity="0.7" filter="url(#b1)"/>
<path d="M430,128 C438,128 446,126 452,121 C456,117 459,111 461,104" fill="none" stroke="#5147ae" stroke-width="3" opacity="0.8" filter="url(#b1)"/>
<path d="M438,124 C446,122 452,116 456,108 L461,96 L463.500,104 C463,110 461,116 456,122 C451,127 445,130 440,130 Z" fill="#4338a5" opacity="0.8" filter="url(#b1)"/>
<!-- white basin -->
<path d="M461,112 C463,119 467,125 473,129.500 C468,133 462,136 457,138 C452,140 448,141 445,140.500 C443,138 444,135 447,132 C453,128 458,121 461,112 Z" fill="#ffffff" filter="url(#b2)"/>
<path d="M461,120 C463,125 467,128 471,130.500 C465,134 458,137 452,138.500 C449,139 447,138.500 447,137 C452,134 458,128 461,120 Z" fill="#ffffff" filter="url(#b1)"/>
<!-- front rim -->
<path d="M443,145.500 C452,143.500 462,139 475,132" fill="none" stroke="#3a2f9a" stroke-width="1.400" opacity="0.9" filter="url(#b05)"/>
<!-- spike 2 curtain -->
<path d="M479,106 C477.500,116 476.500,124 474,131 C477,131 479,129 480,127 C482,133 485,140 488,148 C488.500,140 486.500,130 483,120 C481.500,115 480.500,110 479,106 Z" fill="#3a2f9a" opacity="0.92" filter="url(#b05)"/>
<!-- third cluster -->
<path d="M423,140 C427,137 430,134 432.500,127 L434,136 L436.500,131 L438,138 L439.500,134 L441,140 C443.500,143 445,146 445.500,148.500 C443,152 438,151 433,149 C429,147 426,144 423,140 Z" fill="#3a2f9a" opacity="0.94" filter="url(#b05)"/>
<path d="M424,144 C432,150 440,154 448,155 C442,157 434,154 428,150 Z" fill="#5d55b4" opacity="0.6" filter="url(#b1)"/>
</g>
<!-- spikes -->
<path d="M461.200,69.500 C461.600,85 462,95 464.500,110 L457.500,110 C460,95 460.600,85 461.200,69.500 Z" fill="url(#spk)"/>
<path d="M478.800,71.500 C479.200,92 479.800,108 482,126 L475.500,126 C477.500,108 478.300,92 478.800,71.500 Z" fill="url(#spk2)"/>
<path d="M432.600,126.500 L433.400,135 L431.800,135 Z M439.200,133 L440,139 L438.500,139 Z M436.300,130 L437,136 L435.600,136Z" fill="#1d1850"/>
<!-- axes -->
<g stroke="#555" stroke-width="1" fill="none">
<path d="M349,75 V145 L452,194.500"/><path d="M452,194.500 L555,146" stroke="#8a8a8a" stroke-width="0.8"/>
<path d="M349,75 h-2.500 M349,110 h-2.500 M349,145 h-2.500"/>
<path d="M349,145 l-2,1.500 M400.500,169.700 l-2,1.500 M452,194.500 l-2,1.500 M452,194.500 l2,1.500 M503.500,170.300 l2,1.500 M555,146 l2,1.500"/>
</g>
<text x="314" y="63">×10<tspan class="sm" dy="-4">19</tspan></text>
<text x="343.500" y="79" text-anchor="end">4</text>
<text x="343.500" y="114.500" text-anchor="end">2</text>
<text x="343.500" y="149" text-anchor="end">0</text>
<text x="343.500" y="160.500" text-anchor="end">50</text>
<text x="395" y="184" text-anchor="end">0</text>
<text x="444" y="209" text-anchor="end">−50</text>
<text x="459.500" y="209">0</text>
<text x="509" y="185">50</text>
<text x="560.500" y="160.500">100</text>
<text x="380" y="207.500" text-anchor="middle">y (λ<tspan class="sm" dy="2.500">d</tspan><tspan dy="-2.500">)</tspan></text>
<text x="532" y="207.500" text-anchor="middle">x (λ<tspan class="sm" dy="2.500">d</tspan><tspan dy="-2.500">)</tspan></text>
<text x="452" y="235.500" text-anchor="middle">(d)</text>
<text transform="translate(322,111) rotate(-90)" text-anchor="middle">n<tspan class="sm" dy="2.500">e</tspan><tspan dy="-2.500"> (cm</tspan><tspan class="sm" dy="-4">−3</tspan><tspan dy="4">)</tspan></text>
</g>

<g id="panelE">
<defs>
<pattern id="hatchE" width="2.200" height="7" patternUnits="userSpaceOnUse">
<rect width="2.200" height="7" fill="#c43a33"/>
<rect x="0" y="0" width="1" height="4.200" fill="#3b2c93"/>
<rect x="1.100" y="3.500" width="1" height="2.800" fill="#453aa0"/>
</pattern>
<clipPath id="clipE2"><rect x="107.3" y="279" width="150" height="142"/></clipPath>
</defs>
<g clip-path="url(#clipE)">
<rect x="70" y="278" width="185" height="144" fill="#fff"/>
<rect x="70" y="278" width="37.300" height="144" fill="#fdf5f4"/>
<!-- faint left features -->
<ellipse cx="92" cy="350" rx="10" ry="17" fill="#fbe6e4" opacity="0.6" filter="url(#b3)"/>
<path d="M72,318 C85,300 100,300 107,306 L107,322 C98,312 86,314 72,332 Z" fill="#e6e6f6" opacity="0.6" filter="url(#b2)"/>
<path d="M72,382 C85,400 100,400 107,394 L107,378 C98,388 86,386 72,368 Z" fill="#e6e6f6" opacity="0.6" filter="url(#b2)"/>
<path d="M72,285 C85,281 98,283 107,290 L107,296 C98,290 85,288 72,292 Z" fill="#fbe3e1" opacity="0.6" filter="url(#b2)"/>
<path d="M72,415 C85,419 98,417 107,410 L107,404 C98,410 85,412 72,408 Z" fill="#fbe3e1" opacity="0.6" filter="url(#b2)"/>
<path d="M107,304 C101,306 97,312 96,322 L100,334 L107,336 Z M107,396 C101,394 97,388 96,378 L100,366 L107,364 Z" fill="#dcdcf2" opacity="0.8" filter="url(#b2)"/>
<!-- red chevron band -->
<g clip-path="url(#clipE2)"><g filter="url(#b2)">
<path d="M107.500,300 C112,303 117,305 120,310 C126,322 130,338 131.500,350 C130,362 126,378 120,390 C117,395 112,397 107.500,400 Z" fill="#f6cdc9"/>
<path d="M118,322 C123,328 127,338 129.500,350 C127,362 123,372 118,378 C117,368 120,358 120,350 C120,342 117,332 118,322 Z" fill="#e8918a"/>
</g></g>
<path d="M103.800,335 C102.500,342 102.500,358 103.800,365 L106.800,365 L106.800,335 Z" fill="#dedef3" opacity="0.7" filter="url(#b05)"/>
<!-- blue halo -->
<g filter="url(#b3)">
<path d="M133,350 C131,335 134,316 143,304 C151,298 156,308 158,320 C160,332 162,340 169,343 L169,357 C162,360 160,368 158,380 C156,392 151,402 143,396 C134,384 131,365 133,350 Z" fill="#a9a8dc"/>
</g>
<!-- deep blue core -->
<g filter="url(#b2)">
<path d="M133.500,350 C133,338 135,326 140,317 C147,312 153,322 156,332 C157,338 159,341 166,342 L166,358 C159,359 157,362 156,368 C153,378 147,388 140,383 C135,374 133,362 133.500,350 Z" fill="#2e2492"/>
</g>
<g filter="url(#b1)">
<path d="M134,350 C133.500,340 135,331 139,324 C146,321 151,330 154,338 L161,341.500 L161,358.500 L154,362 C151,370 146,379 139,376 C135,369 133.500,360 134,350 Z" fill="#2e2492"/>
</g>
<ellipse cx="131.300" cy="350" rx="1.600" ry="4" fill="#fff" opacity="0.9" filter="url(#b05)"/>
<!-- red fan -->
<g filter="url(#b2)">
<path d="M166,339 L190,336 L177,317 L167,301 L160,297 L153,302 L158,318 L164,332 Z" fill="#eda19a"/>
<path d="M166,361 L190,364 L177,383 L167,399 L160,403 L153,398 L158,382 L164,368 Z" fill="#eda19a"/>
</g>
<g filter="url(#b1)">
<path d="M168,337 L189,336 L191,350 L189,364 L168,363 C167,354 167,346 168,337 Z" fill="#cd4338"/>
<path d="M167.500,339 L190,336.500 L180,322 L174,313 C170,310 166,313 166,318 C168,324 168.500,332 167.500,339 Z" fill="#dc6258"/>
<path d="M167.500,361 L190,363.500 L180,378 L174,387 C170,390 166,387 166,382 C168,376 168.500,368 167.500,361 Z" fill="#dc6258"/>
</g>
<!-- faint arcs right -->
<path d="M196,298 C214,318 220,340 220,350 C220,360 214,382 196,402" fill="none" stroke="#f9dfdd" stroke-width="4" opacity="0.55" filter="url(#b2)"/>
<path d="M186,306 C200,320 208,338 208,350 C208,362 200,380 186,394" fill="none" stroke="#e2e2f4" stroke-width="3" opacity="0.6" filter="url(#b1)"/>
<!-- spot lobes -->
<g filter="url(#b05)">
<rect x="188" y="331.500" width="22" height="17.500" rx="8.500" ry="8" fill="url(#hatchE)"/>
<rect x="188" y="351" width="22" height="17.500" rx="8.500" ry="8" fill="url(#hatchE)"/>
<ellipse cx="199" cy="340" rx="8" ry="5.500" fill="#c8453d" opacity="0.7"/>
<ellipse cx="199.500" cy="360" rx="8" ry="5.500" fill="#c8453d" opacity="0.7"/>
</g>
<g stroke="#fff" stroke-width="0.600" opacity="0.35">
<path d="M183.500,338v24M185.700,337v26M187.900,337v26"/>
</g>
<rect x="186" y="349.300" width="27" height="1.500" fill="#fff" opacity="0.85" filter="url(#b05)"/>
</g>
<rect class="ax" x="70.5" y="279.5" width="183.500" height="142"/>
<path class="tk" d="M107.300,279.5v2M144.100,279.5v2M180.900,279.5v2M217.700,279.5v2M107.300,421.5v-2M144.100,421.5v-2M180.900,421.5v-2M217.700,421.5v-2M70.500,350.5h2M254,350.5h-2"/>
<!-- colorbar -->
<rect x="258" y="279.500" width="6.500" height="142" fill="url(#cbar)"/>
<rect class="ax" x="258" y="279.500" width="6.500" height="142" style="stroke-width:0.5;stroke:#999"/>
<path class="tk" d="M264.500,314.500h-1.500M264.500,350h-1.500M264.500,385.500h-1.500"/>
<text x="268.500" y="283">1</text>
<text x="268.500" y="318.500">0.5</text>
<text x="268.500" y="354">0</text>
<text x="268.500" y="389.500">−0.5</text>
<text x="268.500" y="425">−1</text>
<text x="269.500" y="267">×10<tspan class="sm" dy="-4">11</tspan></text>
<text x="230" y="302">E<tspan class="sm" dy="2.500">x</tspan></text>
<text x="64.800" y="283" text-anchor="end">−50</text>
<text x="64.800" y="354" text-anchor="end">0</text>
<text x="64.800" y="425" text-anchor="end">50</text>
<text x="70.500" y="437.500" text-anchor="middle">0</text>
<text x="107.300" y="437.500" text-anchor="middle">20</text>
<text x="144.100" y="437.500" text-anchor="middle">40</text>
<text x="180.900" y="437.500" text-anchor="middle">60</text>
<text x="217.700" y="437.500" text-anchor="middle">80</text>
<text x="254.500" y="437.500" text-anchor="middle">100</text>
<text x="167" y="460" text-anchor="middle">x (<tspan class="it">μ</tspan> m)</text>
<text x="167" y="481" text-anchor="middle">(e)</text>
<text transform="translate(35.200,350) rotate(-90)" text-anchor="middle">y (<tspan class="it">μ</tspan> m)</text>
</g>

<g id="panelF">
<defs>
<pattern id="hatchF" width="2.300" height="6" patternUnits="userSpaceOnUse">
<rect width="2.300" height="6" fill="#c0392f"/>
<rect x="0" y="0" width="1" height="3.400" fill="#3b2c93"/>
<rect x="1.150" y="3" width="1" height="2.800" fill="#3b2c93"/>
</pattern>
<clipPath id="spotF"><path d="M459,340 C459,332 466,327 474,326.500 C484,327 493.500,337 493.500,349.500 C493.500,362 484,372 474,372.500 C466,372 459,367 459,359 Z"/></clipPath>
<linearGradient id="beamB" x1="419" y1="0" x2="460" y2="0" gradientUnits="userSpaceOnUse">
<stop offset="0" stop-color="#8d8bd0" stop-opacity="0.5"/><stop offset="0.35" stop-color="#4a40a6" stop-opacity="0.9"/><stop offset="1" stop-color="#2a1f88"/>
</linearGradient>
<linearGradient id="beamR" x1="419" y1="0" x2="460" y2="0" gradientUnits="userSpaceOnUse">
<stop offset="0" stop-color="#f0b0aa" stop-opacity="0.5"/><stop offset="0.45" stop-color="#dc6157" stop-opacity="0.9"/><stop offset="1" stop-color="#c23228"/>
</linearGradient>
</defs>
<g clip-path="url(#clipF)">
<rect x="352" y="279" width="184" height="143" fill="#fff"/>
<!-- very faint background blobs -->
<ellipse cx="366" cy="318" rx="12" ry="20" fill="#fcebea" opacity="0.7" filter="url(#b3)"/>
<ellipse cx="364" cy="372" rx="10" ry="12" fill="#ececf8" opacity="0.8" filter="url(#b3)"/>
<ellipse cx="380" cy="400" rx="20" ry="10" fill="#fcebea" opacity="0.6" filter="url(#b3)"/>
<ellipse cx="388" cy="308" rx="4" ry="8" fill="#dcdcf3" opacity="0.8" filter="url(#b2)"/>
<ellipse cx="398" cy="336" rx="3" ry="6" fill="#d6d6f0" opacity="0.7" filter="url(#b1)" transform="rotate(30 398 336)"/>
<!-- upper pink blob, lower blue blob (left) -->
<path d="M399,312 C403,301 414,300 421,310 C427,320 427,336 421,345 C414,347 407,343 403,335 C399,327 397,318 399,312 Z" fill="#f8d8d5" opacity="0.9" filter="url(#b2)"/>
<path d="M397,386 C401,397 414,396 421,388 C427,378 428,364 421,355 C414,353 407,357 403,365 C399,373 395,380 397,386 Z" fill="#d0cfed" opacity="0.9" filter="url(#b2)"/>
<!-- big upper blue lobe and lower pink lobe -->
<g filter="url(#b3)">
<path d="M424,345 C421,325 427,303 443,295 C458,291 470,305 477,318 L470,330 L460,338 L440,347 Z" fill="#c0bfe6"/>
<path d="M424,355 C421,375 427,397 443,405 C458,409 470,395 477,382 L470,370 L460,362 L440,353 Z" fill="#f5c8c4"/>
</g>
<g filter="url(#b2)">
<path d="M434,345 C438,334 446,322 458,316 L466,322 L462,332 L460,338 Z" fill="#a3a1d9"/>
<path d="M434,355 C438,366 446,378 458,384 L466,378 L462,368 L460,362 Z" fill="#eea9a3"/>
</g>
<!-- center white-ish wedge -->
<path d="M420,350 L460,347 L460,353 Z" fill="#fbe4e2" filter="url(#b1)"/>
<!-- beams -->
<path d="M426,346.500 L460,330 L460,342 Z" fill="#6b66bf" opacity="0.55" filter="url(#b2)"/>
<path d="M426,353.500 L460,370 L460,358 Z" fill="#e27b72" opacity="0.55" filter="url(#b2)"/>
<path d="M421,348.300 L460,336.500 L460,348.400 L440,349.500 L421,349.700 Z" fill="url(#beamB)" filter="url(#b05)"/>
<path d="M421,350.500 L440,350.900 L460,351.800 L460,363.500 L421,351.700 Z" fill="url(#beamR)" filter="url(#b05)"/>
<!-- small features at origin -->
<ellipse cx="418" cy="348" rx="3" ry="2.500" fill="#fff" filter="url(#b05)"/>
<ellipse cx="414.500" cy="353" rx="2" ry="3" fill="#b8b7e2" opacity="0.8" filter="url(#b05)"/>
<!-- faint arcs right -->
<path d="M478,302 C498,318 504,340 504,350 C504,360 498,382 478,398" fill="none" stroke="#fadfdd" stroke-width="5" opacity="0.6" filter="url(#b2)"/>
<path d="M474,314 C490,322 498,338 498,350 C498,362 490,378 474,386" fill="none" stroke="#dedef3" stroke-width="2" opacity="0.8" filter="url(#b1)"/>
<!-- spot -->
<g filter="url(#b05)">
<path d="M459,340 C459,332 466,327 474,326.500 C484,327 493.500,337 493.500,349.500 C493.500,362 484,372 474,372.500 C466,372 459,367 459,359 Z" fill="url(#hatchF)"/>
<g clip-path="url(#spotF)" fill="none" stroke="#c8453d" stroke-width="3.200" opacity="0.75">
<path d="M482,326 L466,349.500 L482,373"/>
<path d="M492,330 L478,349.500 L492,369"/>
<path d="M470,330 L459,349.500 L470,369" stroke-width="2.400"/>
</g>
<path d="M459,340 C459,332 466,327 474,326.500 C484,327 493.500,337 493.500,349.500 C493.500,362 484,372 474,372.500 C466,372 459,367 459,359 Z" fill="none" stroke="#3b2c93" stroke-width="2" opacity="0.4"/>
</g>
</g>
<rect class="ax" x="352.500" y="279.500" width="183" height="142"/>
<path class="tk" d="M389.100,279.500v2M425.700,279.500v2M462.300,279.500v2M498.900,279.500v2M389.100,421.500v-2M425.700,421.500v-2M462.300,421.500v-2M498.900,421.500v-2M352.500,350.500h2M535.500,350.500h-2"/>
<!-- colorbar -->
<rect x="540" y="279.500" width="6.500" height="142" fill="url(#cbar)"/>
<rect class="ax" x="540" y="279.500" width="6.500" height="142" style="stroke-width:0.5;stroke:#999"/>
<path class="tk" d="M546.500,314.500h-1.500M546.500,350h-1.500M546.500,385.500h-1.500"/>
<text x="550.500" y="283">1</text>
<text x="550.500" y="318.500">0.5</text>
<text x="550.500" y="354">0</text>
<text x="550.500" y="389.500">−0.5</text>
<text x="550.500" y="425">−1</text>
<text x="551.500" y="267">×10<tspan class="sm" dy="-4">11</tspan></text>
<text x="509.500" y="302">E<tspan class="sm" dy="2.500">y</tspan></text>
<text x="347" y="283" text-anchor="end">−50</text>
<text x="347" y="354" text-anchor="end">0</text>
<text x="347" y="425" text-anchor="end">50</text>
<text x="352.500" y="437.500" text-anchor="middle">0</text>
<text x="389.100" y="437.500" text-anchor="middle">20</text>
<text x="425.700" y="437.500" text-anchor="middle">40</text>
<text x="462.300" y="437.500" text-anchor="middle">60</text>
<text x="498.900" y="437.500" text-anchor="middle">80</text>
<text x="535.500" y="437.500" text-anchor="middle">100</text>
<text x="449" y="460" text-anchor="middle">x (<tspan class="it">μ</tspan> m)</text>
<text x="449" y="481" text-anchor="middle">(f)</text>
<text transform="translate(316.800,350) rotate(-90)" text-anchor="middle">y (<tspan class="it">μ</tspan> m)</text>
</g>

</svg>
</body></html>
